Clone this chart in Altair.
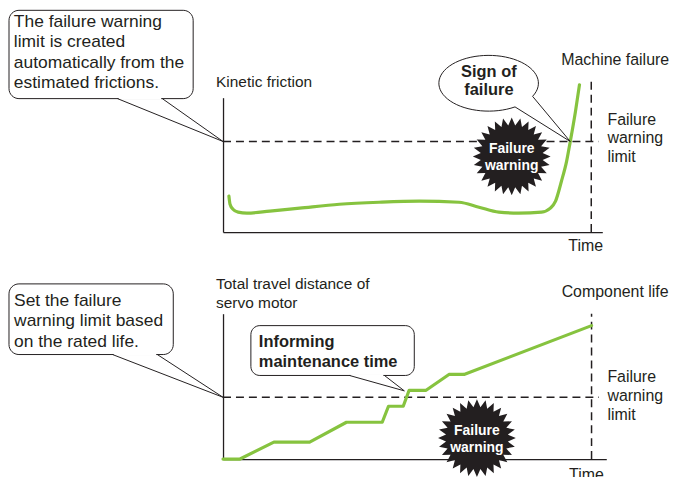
import math
import altair as alt
import pandas as pd

# ---------------- data ----------------
# Top panel: kinetic friction over time
fric_time = [1.6, 1.9, 2.7, 4.1, 6.5, 12.7, 20.8, 31.6, 42.4, 53.3, 64.1, 69.5,
             74.9, 80.3, 86.5, 88.9, 90.3, 91.9, 93.3, 94.3, 95.7, 96.8]
fric_value = [26.7, 20.7, 17.0, 14.8, 14.1, 15.6, 17.8, 20.7, 22.2, 23.0, 22.2, 18.5,
              14.8, 14.1, 14.8, 17.8, 23.0, 37.8, 52.6, 67.4, 89.6, 109.6]
fric_limit = 67.4
fail_time = 100
fric_cross = [94.3, 67.4]

# Bottom panel: total travel distance of servo motor over time
dist_time = [0, 4.6, 13.8, 23.5, 33.5, 43.2, 44.9, 48.9, 50.5, 55.1, 61.3, 65.4, 100]
dist_value = [0, 0, 11.6, 11.6, 25.3, 25.3, 36.3, 36.3, 47.3, 47.3, 58.2, 58.2, 91.8]
dist_limit = 42.5
life_time = 100

# Texts
top_note = "The failure warning\nlimit is created\nautomatically from the\nestimated frictions."
bottom_note = "Set the failure\nwarning limit based\non the rated life."
top_ylabel = "Kinetic friction"
bottom_ylabel = "Total travel distance of\nservo motor"
top_event = "Machine failure"
bottom_event = "Component life"
limit_label = "Failure\nwarning\nlimit"
time_label = "Time"
sign_label = "Sign of\nfailure"
info_label = "Informing\nmaintenance time"
warn_label = "Failure\nwarning"

# ---------------- style ----------------
GREEN = "#86c33f"
INK = "#231f20"
FONT = "Liberation Sans"


def star_path(n=28, inner=0.8):
    pts = []
    for i in range(2 * n):
        r = 1.0 if i % 2 == 0 else inner
        a = math.pi * i / n - math.pi / 2
        pts.append(f"{r * math.cos(a):.4f},{r * math.sin(a):.4f}")
    return "M" + " L".join(pts) + " Z"


STAR = star_path()
# speech bubble (ellipse + tail), anchored at the tail tip, unit = 50 px
BUBBLE = "M -1.110 -0.695 A 1 0.56 0 1 1 -0.757 -0.907 L 0 0 Z"


def panel(curve_df, interp, xs, ys, W, H, limit, event_t, event_top,
          note, note_box, note_tail, note_text_pos, note_lh,
          ylabel, ylabel_pos, event_label, event_pos, limit_pos, time_pos,
          star_pos, callout_layers):
    X = lambda f: alt.X(f"{f}:Q", scale=xs, title=None)
    Y = lambda f: alt.Y(f"{f}:Q", scale=ys, title=None)

    limit_rule = alt.Chart(pd.DataFrame({"t1": [0], "t2": [102], "v": [limit]})).mark_rule(
        color=INK, strokeWidth=1.5, strokeDash=[8, 5]).encode(x=X("t1"), x2=alt.X2("t2"), y=Y("v"))
    event_rule = alt.Chart(pd.DataFrame({"t": [event_t], "v1": [0], "v2": [event_top]})).mark_rule(
        color=INK, strokeWidth=1.5, strokeDash=[8, 5]).encode(x=X("t"), y=Y("v1"), y2=alt.Y2("v2"))

    curve = alt.Chart(curve_df).mark_line(color=GREEN, strokeWidth=3.2, interpolate=interp,
                                          strokeCap="round", strokeJoin="round").encode(x=X("t"), y=Y("v"))

    star_df = pd.DataFrame({"t": [star_pos[0]], "v": [star_pos[1]], "label": [warn_label]})
    star = alt.Chart(star_df).mark_point(shape=STAR, size=6100, filled=True, fill=INK,
                                         opacity=1, strokeWidth=0).encode(x=X("t"), y=Y("v"))
    star_text = alt.Chart(star_df).mark_text(font=FONT, fontSize=14, fontWeight="bold", color="white",
                                             lineBreak="\n", lineHeight=16.5, baseline="middle",
                                             align="center", dy=-7).encode(
        x=X("t"), y=Y("v"), text="label:N")

    box_df = pd.DataFrame({"t1": [note_box[0]], "t2": [note_box[1]], "v1": [note_box[2]], "v2": [note_box[3]]})
    box = alt.Chart(box_df).mark_rect(cornerRadius=10, fill="white", stroke=INK, strokeWidth=1).encode(
        x=X("t1"), x2=alt.X2("t2"), y=Y("v1"), y2=alt.Y2("v2"))
    cover = alt.Chart(pd.DataFrame({"t1": [note_tail[0] + 0.3], "t2": [note_tail[1] - 0.3],
                                    "v": [note_box[3]]})).mark_rule(color="white", strokeWidth=2.5).encode(
        x=X("t1"), x2=alt.X2("t2"), y=Y("v"))
    tail = alt.Chart(pd.DataFrame({"t1": [note_tail[0], note_tail[1]], "v1": [note_box[3]] * 2,
                                   "t2": [0, 0], "v2": [limit, limit]})).mark_rule(
        color=INK, strokeWidth=1).encode(x=X("t1"), y=Y("v1"), x2=alt.X2("t2"), y2=alt.Y2("v2"))
    note_text = alt.Chart(pd.DataFrame({"t": [note_text_pos[0]], "v": [note_text_pos[1]], "label": [note]})).mark_text(
        font=FONT, fontSize=17.5, color=INK, align="left", baseline="alphabetic",
        lineBreak="\n", lineHeight=note_lh).encode(x=X("t"), y=Y("v"), text="label:N")

    ylab = alt.Chart(pd.DataFrame({"t": [ylabel_pos[0]], "v": [ylabel_pos[1]], "label": [ylabel]})).mark_text(
        font=FONT, fontSize=15.5, color=INK, align="left", baseline="alphabetic",
        lineBreak="\n", lineHeight=19).encode(x=X("t"), y=Y("v"), text="label:N")
    evlab = alt.Chart(pd.DataFrame({"t": [event_pos[0]], "v": [event_pos[1]], "label": [event_label]})).mark_text(
        font=FONT, fontSize=16, color=INK, align="center", baseline="alphabetic").encode(
        x=X("t"), y=Y("v"), text="label:N")
    limlab = alt.Chart(pd.DataFrame({"t": [limit_pos[0]], "v": [limit_pos[1]], "label": [limit_label]})).mark_text(
        font=FONT, fontSize=16, color=INK, align="left", baseline="alphabetic",
        lineBreak="\n", lineHeight=19).encode(x=X("t"), y=Y("v"), text="label:N")
    timelab = alt.Chart(pd.DataFrame({"t": [time_pos[0]], "v": [time_pos[1]], "label": [time_label]})).mark_text(
        font=FONT, fontSize=16, color=INK, align="center", baseline="alphabetic").encode(
        x=X("t"), y=Y("v"), text="label:N")

    extra = callout_layers(X, Y)
    layers = [limit_rule, event_rule, curve, star, star_text] + extra + \
             [box, cover, tail, note_text, ylab, evlab, limlab, timelab]
    return alt.layer(*layers).properties(width=W, height=H)


# ---------- top panel ----------
xs1 = alt.Scale(domain=[0, 103], nice=False, zero=False)
ys1 = alt.Scale(domain=[0, 100], nice=False, zero=False)


def top_callout(X, Y):
    b = alt.Chart(pd.DataFrame({"t": [fric_cross[0]], "v": [fric_cross[1]]})).mark_point(
        shape=BUBBLE, size=10000, filled=True, fill="white", stroke=INK, strokeWidth=1, opacity=1
    ).encode(x=X("t"), y=Y("v"))
    txt = alt.Chart(pd.DataFrame({"t": [72.2], "v": [115.6], "label": [sign_label]})).mark_text(
        font=FONT, fontSize=16.5, fontWeight="bold", color=INK, align="center", baseline="alphabetic",
        lineBreak="\n", lineHeight=18).encode(x=X("t"), y=Y("v"), text="label:N")
    return [b, txt]


top = panel(pd.DataFrame({"t": fric_time, "v": fric_value}), "monotone", xs1, ys1, 381, 135,
            fric_limit, fail_time, 113.3,
            top_note, [-58.12, -8.11, 165.0, 99.3], [-28.66, -16.49], [-56.8, 152.6], 20.5,
            top_ylabel, [-1.89, 108.1], top_event, [106.5, 124.4], [104.4, 80.0], [98.5, -14.1],
            [78.4, 56.3], top_callout)

# ---------- bottom panel ----------
xs2 = alt.Scale(domain=[0, 104], nice=False, zero=False)
ys2 = alt.Scale(domain=[0, 100], nice=False, zero=False)


def bottom_callout(X, Y):
    box_df = pd.DataFrame({"t1": [7.56], "t2": [51.9], "v1": [91.8], "v2": [57.5]})
    box = alt.Chart(box_df).mark_rect(cornerRadius=9, fill="white", stroke=INK, strokeWidth=1).encode(
        x=X("t1"), x2=alt.X2("t2"), y=Y("v1"), y2=alt.Y2("v2"))
    cover = alt.Chart(pd.DataFrame({"t1": [34.6], "t2": [43.5], "v": [57.5]})).mark_rule(
        color="white", strokeWidth=2.5).encode(x=X("t1"), x2=alt.X2("t2"), y=Y("v"))
    tail = alt.Chart(pd.DataFrame({"t1": [34.3, 43.8], "v1": [57.5, 57.5],
                                   "t2": [49.2, 49.2], "v2": [46.9, 46.9]})).mark_rule(
        color=INK, strokeWidth=1).encode(x=X("t1"), y=Y("v1"), x2=alt.X2("t2"), y2=alt.Y2("v2"))
    txt = alt.Chart(pd.DataFrame({"t": [9.72], "v": [76.9], "label": [info_label]})).mark_text(
        font=FONT, fontSize=16.5, fontWeight="bold", color=INK, align="left", baseline="alphabetic",
        lineBreak="\n", lineHeight=20).encode(x=X("t"), y=Y("v"), text="label:N")
    return [box, cover, tail, txt]


bottom = panel(pd.DataFrame({"t": dist_time, "v": dist_value}), "linear", xs2, ys2, 385, 146,
               dist_limit, life_time, 100,
               bottom_note, [-58.08, -13.5, 120.5, 71.9], [-29.98, -17.83], [-56.7, 105.5], 20.5,
               bottom_ylabel, [-1.89, 116.9], bottom_event, [106.4, 111.2], [104.3, 52.9], [98.6, -14.5],
               [68.9, 14.4], bottom_callout)

chart = alt.vconcat(top, bottom, spacing=82, bounds="flush", padding=0,
                    background="white").configure_view(stroke=None).configure_axis(
    domain=True, ticks=False, labels=False, grid=False,
    domainColor=INK, domainWidth=1.3)

chart.save("out.html", embed_options={"renderer": "svg", "actions": False})
